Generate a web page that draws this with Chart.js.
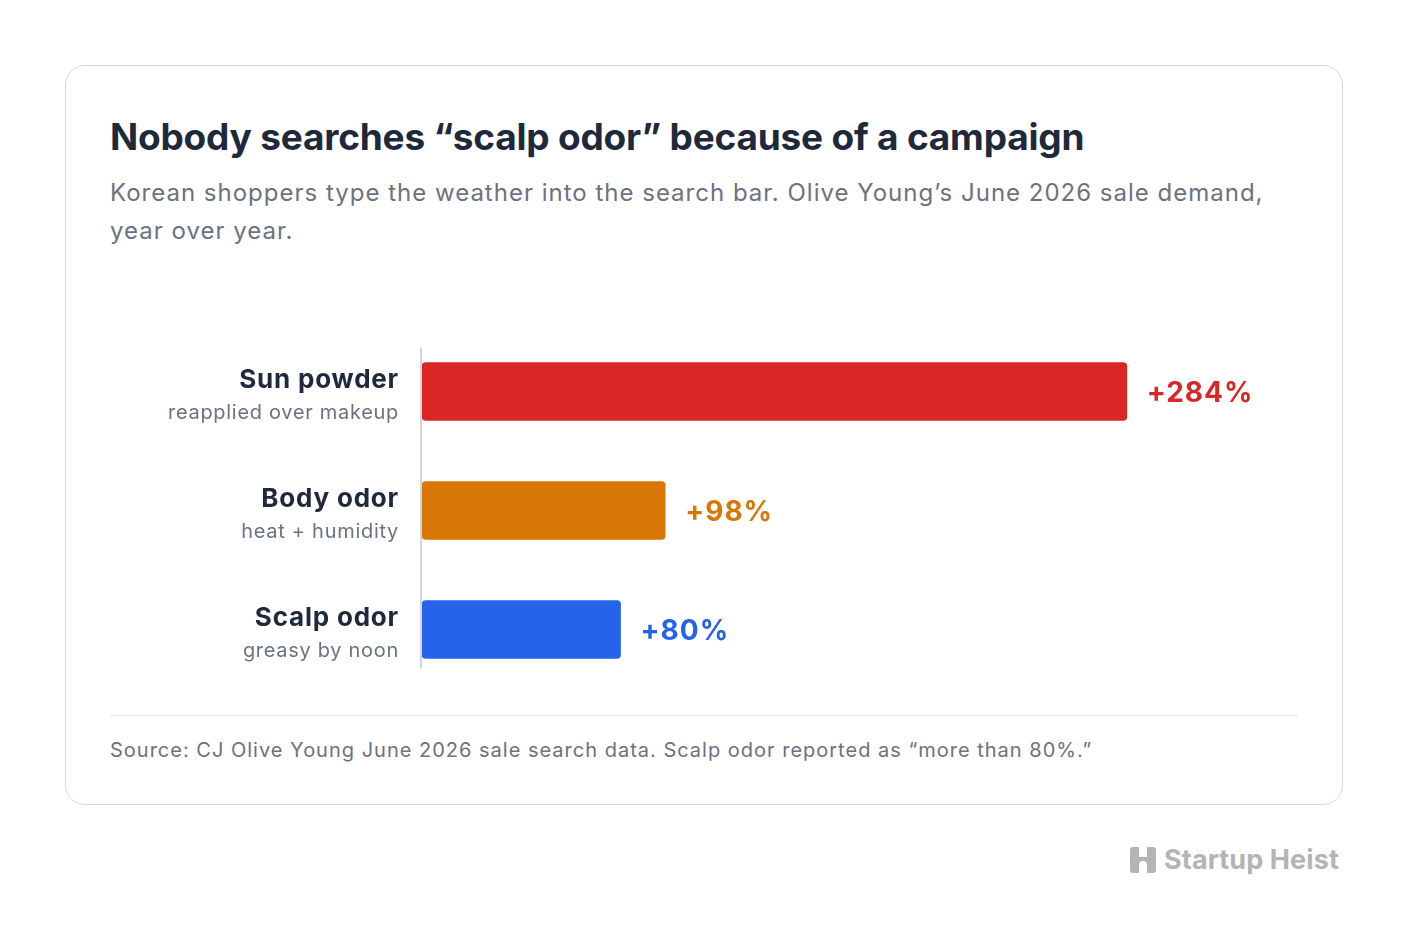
<!DOCTYPE html>
<html lang="en">
<head>
<meta charset="UTF-8">
<title>Nobody searches scalp odor because of a campaign</title>
<script src="https://cdn.jsdelivr.net/npm/chart.js"></script>
<style>
  body { margin: 0; background: #fff; font-family: Inter, sans-serif; width: 1408px; height: 942px; position: relative; }
  .card { position: absolute; left: 65px; top: 65px; width: 1276px; height: 738px; border: 1.5px solid #d4d6db; border-radius: 20px; }
  h1 { position: absolute; left: 44px; top: 48px; margin: 0; font-size: 37px; font-weight: 700; color: #1e293b; letter-spacing: -0.2px; }
  .sub { position: absolute; left: 44px; top: 108px; width: 1190px; margin: 0; font-size: 24px; line-height: 38px; color: #6b7280; letter-spacing: 1px; }
  .chartbox { position: absolute; left: 44px; top: 255px; width: 1188px; height: 380px; }
  .rule { position: absolute; left: 44px; top: 649px; width: 1188px; height: 0; border-top: 1.5px solid #e3e5e8; }
  .source { position: absolute; left: 44px; top: 672px; margin: 0; font-size: 20px; color: #6b7280; letter-spacing: 1px; }
  .logo { position: absolute; left: 1130px; top: 843px; display: flex; align-items: center; gap: 8px; color: #b4b4b4; font-size: 27px; font-weight: 700; letter-spacing: 0.1px; }
</style>
</head>
<body>
<div class="card">
  <h1>Nobody searches “scalp odor” because of a campaign</h1>
  <p class="sub">Korean shoppers type the weather into the search bar. Olive Young’s June 2026 sale demand, year over year.</p>
  <div class="chartbox"><canvas id="chart"></canvas></div>
  <div class="rule"></div>
  <p class="source">Source: CJ Olive Young June 2026 sale search data. Scalp odor reported as “more than 80%.”</p>
</div>
<div class="logo">
  <svg width="26" height="26" viewBox="0 0 26 26"><path d="M3 0h6v10h8V0h6a3 3 0 0 1 3 3v20a3 3 0 0 1-3 3h-6v-8a4 4 0 0 0-8 0v8H3a3 3 0 0 1-3-3V3a3 3 0 0 1 3-3z" fill="#b4b4b4"/></svg>
  <span>Startup Heist</span>
</div>
<script>
const categories = ['Sun powder', 'Body odor', 'Scalp odor'];
const notes = ['reapplied over makeup', 'heat + humidity', 'greasy by noon'];
const growth = [284, 98, 80];
const valueLabels = ['+284%', '+98%', '+80%'];
const barColors = ['#dc2626', '#d97706', '#2563eb'];

const labelPlugin = {
  id: 'labels',
  afterDatasetsDraw(chart) {
    const ctx = chart.ctx;
    const meta = chart.getDatasetMeta(0);
    const yScale = chart.scales.y;
    ctx.save();
    meta.data.forEach((bar, i) => {
      // value label
      ctx.fillStyle = barColors[i];
      ctx.font = '700 28px Inter';
      ctx.letterSpacing = '1px';
      ctx.textAlign = 'left';
      ctx.textBaseline = 'middle';
      ctx.fillText(valueLabels[i], bar.x + 20, bar.y + 2);
      // category name + note
      const x = yScale.right - 23;
      ctx.textAlign = 'right';
      ctx.fillStyle = '#1e293b';
      ctx.font = '700 26px Inter';
      ctx.letterSpacing = '0.8px';
      ctx.fillText(categories[i], x, bar.y - 11);
      ctx.fillStyle = '#6b7280';
      ctx.font = '400 20px Inter';
      ctx.letterSpacing = '0.7px';
      ctx.fillText(notes[i], x, bar.y + 21);
    });
    ctx.letterSpacing = '0px';
    // axis line
    const first = meta.data[0], last = meta.data[meta.data.length - 1];
    const ax = chart.chartArea.left;
    ctx.strokeStyle = '#d4d6db';
    ctx.lineWidth = 2;
    ctx.beginPath();
    ctx.moveTo(ax - 1, first.y - first.height / 2 - 15);
    ctx.lineTo(ax - 1, last.y + last.height / 2 + 10);
    ctx.stroke();
    ctx.restore();
  }
};

new Chart(document.getElementById('chart'), {
  type: 'bar',
  data: {
    labels: categories,
    datasets: [{
      data: growth,
      backgroundColor: barColors,
      borderRadius: 4,
      borderSkipped: false,
      barThickness: 58
    }]
  },
  options: {
    indexAxis: 'y',
    responsive: true,
    maintainAspectRatio: false,
    animation: false,
    layout: { padding: { top: 11, bottom: 12 } },
    plugins: { legend: { display: false }, tooltip: { enabled: false } },
    scales: {
      x: { display: false, min: 0, max: 353 },
      y: {
        grid: { display: false },
        border: { display: false },
        ticks: { display: false },
        afterFit(scale) { scale.width = 312; }
      }
    }
  },
  plugins: [labelPlugin]
});
</script>
</body>
</html>
